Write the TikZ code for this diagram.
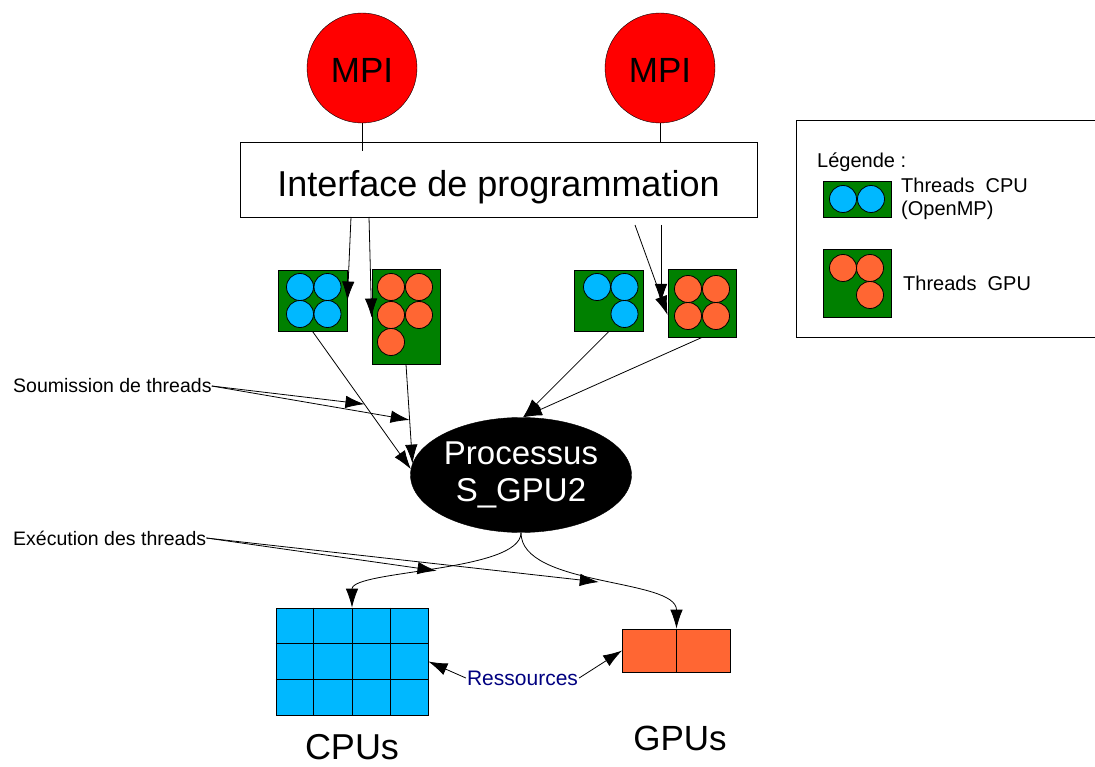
\documentclass[tikz,border=0pt]{standalone}
\usepackage{fontspec}
\setmainfont{Liberation Sans}
\usetikzlibrary{shapes.geometric,arrows.meta,calc}
\definecolor{tgreen}{RGB}{0,128,0}
\definecolor{tcyan}{RGB}{0,184,255}
\definecolor{torange}{RGB}{255,102,51}
\definecolor{tnavy}{RGB}{0,0,128}
\tikzset{
  base/.style={line width=0.8pt},
  arr/.style={line width=0.8pt,-{Latex[length=19pt,width=12.5pt]}},
  mpi/.style={circle,draw,fill=red,minimum size=110pt,inner sep=0pt,text height=30pt,text depth=0pt,font=\fontsize{35}{42}\selectfont},
  gbox/.style={draw,fill=tgreen,inner sep=0pt,line width=0.8pt},
  cth/.style={circle,draw,fill=tcyan,minimum size=27pt,inner sep=0pt,line width=0.8pt},
  gth/.style={circle,draw,fill=torange,minimum size=27pt,inner sep=0pt,line width=0.8pt},
  lbl/.style={inner sep=0pt,font=\fontsize{19.5}{23}\selectfont},
  lg/.style={inner sep=0pt,font=\fontsize{20}{24}\selectfont},
}
\begin{document}
\begin{tikzpicture}[x=1pt,y=-1pt]
\useasboundingbox (0,0) rectangle (1095,767);

% MPI and interface
\node[mpi] (mpi1) at (362,68) {MPI};
\node[mpi] (mpi2) at (660,68) {MPI};
\node[draw,line width=0.8pt,minimum width=517pt,minimum height=75pt,inner sep=0pt,text height=35pt,text depth=0pt,font=\fontsize{36}{43}\selectfont] (api) at (498.5,179.5) {Interface de programmation};
\draw[base] (mpi1.south) -- ++(0,28);
\draw[base] (mpi2.south) -- (mpi2.south |- api.north);

% thread boxes
\node[gbox,minimum width=69pt,minimum height=61pt] (boxA) at (312.5,300.5) {};
\node[cth] (a1) at (300,287) {};
\node[cth] (a2) at (327.5,287) {};
\node[cth] (a3) at (300,314) {};
\node[cth] (a4) at (327.5,314) {};

\node[gbox,minimum width=68pt,minimum height=95pt] (boxB) at (406,316.5) {};
\node[gth] (b1) at (391,287) {};
\node[gth] (b2) at (419,287) {};
\node[gth] (b3) at (391,315) {};
\node[gth] (b4) at (419,315) {};
\node[gth] (b5) at (391,342) {};

\node[gbox,minimum width=69pt,minimum height=61pt] (boxC) at (609,300.5) {};
\node[cth] (c1) at (597,287) {};
\node[cth] (c2) at (624.5,287) {};
\node[cth] (c3) at (624.5,314) {};

\node[gbox,minimum width=68pt,minimum height=68pt] (boxD) at (702,303) {};
\node[gth] (d1) at (688,289) {};
\node[gth] (d2) at (716,289) {};
\node[gth] (d3) at (688,316) {};
\node[gth] (d4) at (716,316) {};

% arrows from interface
\coordinate (s1a) at (351,217);
\coordinate (s2a) at (369,217);
\coordinate (s3a) at (635,225);
\coordinate (s4a) at (661,225);
\draw[arr] (s1a) -- (boxA.east);
\draw[arr] (s2a) -- ([yshift=-1pt]boxB.west);
\draw[arr] (s3a) -- ([yshift=-12pt]boxD.west);
\draw[arr] (s4a) -- (boxD.west -| s4a);

% process ellipse
\node[ellipse,fill=black,draw,minimum width=221pt,minimum height=115pt,inner sep=0pt,text=white,align=center,font=\fontsize{33}{37}\selectfont] (ell) at (521,475) {\raisebox{-3pt}{Processus}\\\raisebox{-3pt}{S\_GPU2}};

\draw[arr] (boxA.south) -- (ell.177) coordinate[pos=0.528] (t1);
\draw[arr] (boxB.south) -- (ell.174) coordinate[pos=0.56] (t2);
\draw[arr] (boxC.south) -- (ell.88);
\draw[arr] (boxD.south) -- (ell.88);

\node[lbl,anchor=west] (soum) at (13,386) {Soumission de threads};
\draw[arr] (soum.east) -- (t1);
\draw[arr] (soum.east) -- (t2);

% resources
\node[draw,fill=tcyan,line width=0.8pt,minimum width=152pt,minimum height=107pt,inner sep=0pt] (cpu) at (352,661.5) {};
\foreach \i in {1,2,3} \draw[base] ($(cpu.north west)!\i/4!(cpu.north east)$) -- ($(cpu.south west)!\i/4!(cpu.south east)$);
\foreach \j in {1,2} \draw[base] ($(cpu.north west)!\j/3!(cpu.south west)$) -- ($(cpu.north east)!\j/3!(cpu.south east)$);
\node[draw,fill=torange,line width=0.8pt,minimum width=108pt,minimum height=43pt,inner sep=0pt] (gpu) at (676.5,650.5) {};
\draw[base] (gpu.north) -- (gpu.south);

\draw[arr] (ell.south) .. controls (521,572) and (352,570) .. (cpu.north) coordinate[pos=0.5] (e1);
\draw[arr] (ell.south) .. controls (521,587) and (676.5,578) .. (gpu.north) coordinate[pos=0.5] (e2);

\node[lbl,anchor=west] (exec) at (13,538) {Exécution des threads};
\draw[arr] (exec.east) -- (e1);
\draw[arr] (exec.east) -- (e2);

\node[inner sep=1pt,text=tnavy,font=\fontsize{21}{25}\selectfont] (res) at (522.5,678) {Ressources};
\draw[arr] (res.west) -- (cpu.east);
\draw[arr] (res.east) -- (gpu.west);

\node[anchor=base,inner sep=0pt,font=\fontsize{36}{43}\selectfont] (cpul) at (352,759) {CPUs};
\node[anchor=base,inner sep=0pt,font=\fontsize{35}{42}\selectfont] (gpul) at (680,750) {GPUs};

% legend
\node[draw,line width=0.8pt,anchor=north west,minimum width=301pt,minimum height=217pt,inner sep=0pt] (leg) at (796,120) {};
\node[lg,anchor=base west] (legt) at (817,168) {Légende :};
\node[gbox,minimum width=68pt,minimum height=36pt] (lc) at (857,199) {};
\node[cth] (lc1) at (843,199) {};
\node[cth] (lc2) at (871,199) {};
\node[lg,anchor=base west] (lct) at (901,193) {Threads\ \ CPU};
\node[lg,anchor=base west] (lct2) at (901,216) {(OpenMP)};
\node[gbox,minimum width=68pt,minimum height=68pt] (lgb) at (857,283) {};
\node[gth] (lg1) at (843,268) {};
\node[gth] (lg2) at (870,268) {};
\node[gth] (lg3) at (870,295) {};
\node[lg,anchor=base west] (lgt) at (903,291) {Threads\ \ GPU};
\end{tikzpicture}
\end{document}
